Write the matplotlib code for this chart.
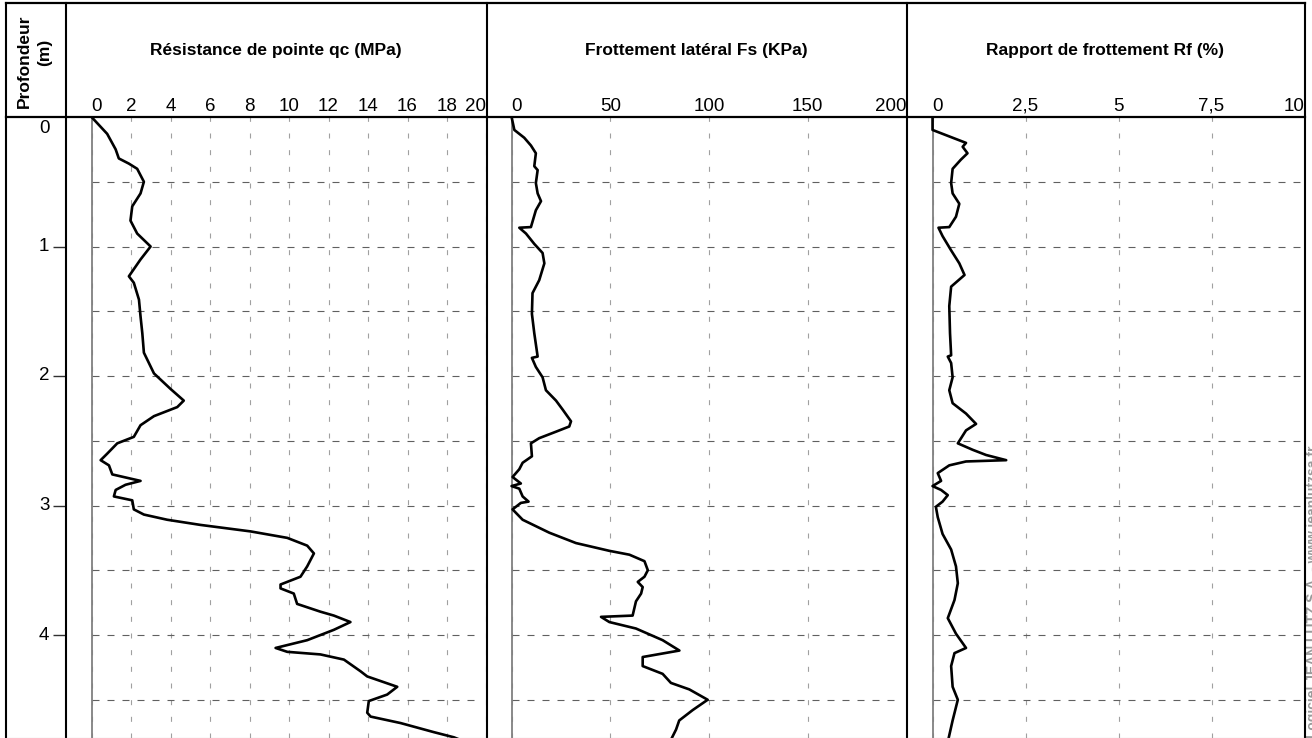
import numpy as np
import matplotlib
matplotlib.use('Agg')
import matplotlib.pyplot as plt

plt.rcParams['font.family'] = ['Liberation Sans', 'DejaVu Sans']

# --- data (depth in m) ---
qc_depth = [0.00, 0.02, 0.13, 0.25, 0.32, 0.36, 0.40, 0.50, 0.59, 0.69, 0.80,
            0.90, 1.00, 1.10, 1.23, 1.28, 1.41, 1.54, 1.67, 1.82, 1.98,
            2.10, 2.19, 2.24, 2.31, 2.38, 2.47, 2.52, 2.60, 2.65, 2.69,
            2.76, 2.81, 2.84, 2.88, 2.93, 2.96, 3.03, 3.07, 3.11, 3.15,
            3.20, 3.25, 3.31, 3.37, 3.47, 3.55, 3.61, 3.64, 3.68, 3.76,
            3.82, 3.85, 3.90, 3.96, 4.04, 4.10, 4.13, 4.15, 4.19, 4.28,
            4.32, 4.40, 4.46, 4.51, 4.60, 4.63, 4.68, 4.75, 4.79, 4.83]
qc_val = [0.00, 0.12, 0.79, 1.22, 1.38, 1.89, 2.31, 2.65, 2.48, 2.06, 1.97,
          2.31, 2.99, 2.48, 1.89, 2.14, 2.40, 2.48, 2.57, 2.65, 3.16,
          4.00, 4.67, 4.34, 3.16, 2.48, 2.14, 1.30, 0.79, 0.46, 0.88,
          1.05, 2.48, 1.72, 1.22, 1.13, 2.06, 2.14, 2.65, 3.83, 5.52,
          8.05, 9.91, 10.92, 11.26, 10.92, 10.58, 9.57, 9.57, 10.24, 10.41,
          11.59, 12.27, 13.11, 12.27, 10.92, 9.32, 9.91, 11.59, 12.78, 13.62,
          13.96, 15.48, 14.97, 14.04, 13.96, 14.13, 15.65, 17.33, 18.35, 19.0]

fs_depth = [0.00, 0.10, 0.16, 0.22, 0.28, 0.38, 0.41, 0.51, 0.59, 0.65,
            0.72, 0.85, 0.855, 0.90, 0.98, 1.05, 1.13, 1.26, 1.36, 1.52,
            1.67, 1.85, 1.86, 1.93, 2.01, 2.11, 2.19, 2.26, 2.35, 2.39,
            2.43, 2.48, 2.52, 2.62, 2.67, 2.72, 2.78, 2.83, 2.85, 2.87,
            2.93, 2.97, 2.98, 3.03, 3.11, 3.21, 3.29, 3.35, 3.38, 3.43,
            3.50, 3.55, 3.59, 3.63, 3.68, 3.74, 3.85, 3.86, 3.90, 3.95,
            4.04, 4.12, 4.17, 4.24, 4.30, 4.37, 4.42, 4.50, 4.58, 4.66,
            4.73, 4.80]
fs_val = [0.0, 1.4, 6.4, 9.8, 12.3, 11.5, 13.2, 12.3, 13.2, 14.9,
          12.3, 9.8, 3.9, 7.3, 11.5, 15.7, 16.6, 14.0, 10.6, 10.3,
          11.5, 13.2, 10.3, 12.3, 15.7, 17.4, 22.5, 25.9, 30.1, 29.2,
          22.5, 14.0, 9.8, 10.3, 5.6, 3.9, 0.5, 4.7, 0.0, 3.9,
          5.6, 8.6, 4.7, 0.5, 5.6, 19.1, 32.6, 49.5, 59.7, 67.3,
          69.0, 67.3, 63.9, 66.4, 65.6, 63.0, 61.3, 45.3, 49.5, 63.0,
          76.5, 85.0, 66.4, 66.4, 76.5, 80.7, 90.0, 99.3, 91.7, 84.9,
          83.3, 81.0]

rf_depth = [0.00, 0.10, 0.14, 0.18, 0.20, 0.23, 0.28, 0.33, 0.40, 0.51,
            0.59, 0.67, 0.77, 0.85, 0.855, 0.92, 1.03, 1.13, 1.22, 1.31,
            1.46, 1.67, 1.84, 1.85, 1.90, 2.01, 2.11, 2.21, 2.29, 2.37,
            2.42, 2.52, 2.57, 2.61, 2.65, 2.66, 2.69, 2.75, 2.81, 2.85,
            2.88, 2.92, 2.97, 3.01, 3.09, 3.22, 3.34, 3.47, 3.60, 3.73,
            3.87, 3.99, 4.10, 4.14, 4.24, 4.40, 4.50, 4.66, 4.80]
rf_val = [0.0, 0.0, 0.36, 0.72, 0.90, 0.81, 0.94, 0.76, 0.54, 0.50,
          0.54, 0.72, 0.63, 0.45, 0.16, 0.27, 0.50, 0.72, 0.86, 0.50,
          0.45, 0.47, 0.50, 0.41, 0.50, 0.54, 0.45, 0.54, 0.90, 1.17,
          0.90, 0.68, 1.08, 1.44, 1.98, 0.90, 0.45, 0.14, 0.23, 0.0,
          0.23, 0.41, 0.27, 0.09, 0.14, 0.27, 0.50, 0.63, 0.68, 0.59,
          0.41, 0.63, 0.90, 0.59, 0.50, 0.54, 0.68, 0.54, 0.43]

titles = ['Résistance de pointe qc (MPa)', 'Frottement latéral Fs (KPa)',
          'Rapport de frottement Rf (%)']
qc_ticks = [0, 2, 4, 6, 8, 10, 12, 14, 16, 18, 20]
fs_ticks = [0, 50, 100, 150, 200]
rf_ticks = [0, 2.5, 5, 7.5, 10]
rf_ticklabels = ['0', '2,5', '5', '7,5', '10']
depth_ticks = [0, 1, 2, 3, 4]
grid_depths = [0.5, 1.0, 1.5, 2.0, 2.5, 3.0, 3.5, 4.0, 4.5]

W, H = 1312, 738
TOP = 117
depth_max = (H - TOP) / 129.5

fig = plt.figure(figsize=(W / 100, H / 100), dpi=100)


def px_rect(left, right, top, bottom):
    return [left / W, 1 - bottom / H, (right - left) / W, (bottom - top) / H]


panels = [
    (65.5, 486.5, qc_depth, qc_val, (-1.32, 20), qc_ticks,
     [str(t) for t in qc_ticks], 19.44),
    (486.5, 906.5, fs_depth, fs_val, (-12.7, 200), fs_ticks,
     [str(t) for t in fs_ticks], 194.4),
    (906.5, 1304.5, rf_depth, rf_val, (-0.70, 10), rf_ticks,
     rf_ticklabels, 9.93),
]

for left, right, dep, val, xlim, ticks, labels, hend in panels:
    ax = fig.add_axes(px_rect(left, right, TOP, H))
    ax.set_xlim(xlim)
    ax.set_ylim(depth_max, 0)
    ax.plot(val, dep, color='black', lw=1.9, zorder=5)
    ax.axvline(0, color='#808080', lw=1.3, zorder=3)
    ax.set_xticks(ticks)
    ax.set_xticklabels(labels)
    ax.xaxis.set_ticks_position('top')
    ax.tick_params(axis='x', length=0, pad=1.5, labelsize=13.5)
    tl = ax.get_xticklabels()
    tl[0].set_ha('left')
    tl[-1].set_ha('right')
    ax.xaxis.grid(True, color='#a0a0a0', lw=0.8, linestyle=(0, (4.5, 10.5)))
    ax.set_yticks([])
    ax.hlines(grid_depths, 0, hend, colors='#606060', lw=0.8,
              linestyles=(0, (6.3, 7.2)), zorder=2)
    for s in ax.spines.values():
        s.set_visible(False)

# depth column
dax = fig.add_axes(px_rect(6, 65.5, TOP, H))
dax.set_xlim(0, 1)
dax.set_ylim(depth_max, 0)
dax.set_xticks([])
dax.set_yticks(depth_ticks[1:])
dax.tick_params(axis='y', left=False, right=True, direction='in',
                length=9.5, width=1, color='#303030', labelleft=False)
for s in dax.spines.values():
    s.set_visible(False)
for d in depth_ticks:
    if d == 0:
        dax.text(0.64, 0.02, str(d), transform=dax.get_yaxis_transform(),
                 ha='center', va='top', fontsize=13.5)
    else:
        dax.text(0.64, d, str(d), transform=dax.get_yaxis_transform(),
                 ha='center', va='center', fontsize=13.5)

# frame and header
fr = fig.add_axes([0, 0, 1, 1], zorder=10)
fr.set_xlim(0, W)
fr.set_ylim(H, 0)
fr.axis('off')
fr.patch.set_alpha(0)
for y in [2.5, TOP]:
    fr.plot([6, 1305], [y, y], color='black', lw=1.6)
for x in [6, 65.5, 486.5, 906.5, 1304.5]:
    fr.plot([x, x], [2.5, H], color='black', lw=1.5)
fr.plot([6, 1305], [H - 0.5, H - 0.5], color='#b0b0b0', lw=0.8)

for (left, right, *_), title in zip(panels, titles):
    fr.text((left + right) / 2, 50, title, ha='center', va='center',
            fontsize=12.5, fontweight='bold')

fr.text(24, 61, 'Profondeur', rotation=90, ha='center', va='center',
        fontsize=12.5, fontweight='bold')
fr.text(45, 52, '(m)', rotation=90, ha='center', va='center',
        fontsize=12.5, fontweight='bold')

fig.text(1305.5 / W, 0.0, 'Logiciel JEAN LUTZ S.A. - www.jeanlutzsa.fr',
         rotation=90, ha='left', va='bottom', color='#9a9a9a',
         fontsize=10, fontweight='bold')

fig.savefig('out.png', dpi=100)
